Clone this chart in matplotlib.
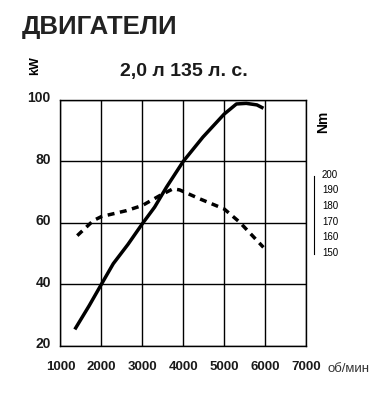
import matplotlib
matplotlib.use("Agg")
import matplotlib.pyplot as plt
import matplotlib.transforms as mtransforms

# power curve (kW)
power_rpm = [1350, 1700, 2000, 2290, 2650, 3000, 3300, 3590, 4000, 4480, 5000, 5300, 5540, 5800, 5960]
power_kw = [25.3, 33.0, 40.0, 46.7, 53.0, 59.7, 65.1, 71.6, 80.0, 87.9, 95.4, 98.7, 98.9, 98.4, 97.3]

# torque curve (Nm)
torque_rpm = [1410, 1800, 2000, 2610, 3000, 3430, 3750, 3910, 4400, 5000, 5380, 5960]
torque_nm = [159.7, 169.3, 171.9, 175.7, 179.0, 185.4, 189.7, 189.0, 183.3, 176.8, 168.3, 152.2]

rpm_ticks = [1000, 2000, 3000, 4000, 5000, 6000, 7000]
kw_ticks = [20, 40, 60, 80, 100]
nm_ticks = [150, 160, 170, 180, 190, 200]

plt.rcParams['font.family'] = ['Liberation Sans', 'DejaVu Sans']

fig = plt.figure(figsize=(3.89, 4.02), dpi=100)
ax = fig.add_axes([0.1555, 0.1376, 0.6311, 0.6112])

ax.set_xlim(1000, 7000)
ax.set_ylim(20, 100)
ax.set_xticks(rpm_ticks)
ax.set_yticks(kw_ticks)
ax.grid(True, color='black', linewidth=1.0)
for s in ax.spines.values():
    s.set_linewidth(1.0)
ax.tick_params(length=0)
ax.tick_params(axis='x', pad=10.5, labelsize=9.5)
ax.tick_params(axis='y', pad=7, labelsize=10)
for lab in ax.get_xticklabels() + ax.get_yticklabels():
    lab.set_fontweight('bold')
    lab.set_color('#1a1a1a')
up = mtransforms.ScaledTranslation(0, 4 / 100, fig.dpi_scale_trans)
for lab in ax.get_yticklabels():
    lab.set_transform(lab.get_transform() + up)

ax.plot(power_rpm, power_kw, color='black', linewidth=2.5, solid_capstyle='butt',
        solid_joinstyle='round', zorder=3)

# torque on its own scale
ax2 = ax.twinx()
ax2.set_ylim(89.2, 246.6)
ax2.plot(torque_rpm, torque_nm, color='black', linewidth=2.5, dashes=(2.0, 1.6), zorder=3)
ax2.set_yticks(nm_ticks)
ax2.tick_params(length=0, pad=5.5, labelsize=7)
for lab in ax2.get_yticklabels():
    lab.set_fontweight('bold')
    lab.set_color('#1a1a1a')
for k in ['top', 'left', 'bottom']:
    ax2.spines[k].set_visible(False)
ax2.spines['right'].set_position(('outward', 6))
ax2.spines['right'].set_bounds(148, 198)
ax2.spines['right'].set_linewidth(0.8)

# texts
fig.text(22 / 389, 1 - 34 / 402, 'ДВИГАТЕЛИ', fontsize=18.5, fontweight='bold',
         color='#222222', ha='left', va='baseline')
fig.text(184 / 389, 1 - 76 / 402, '2,0 л 135 л. с.', fontsize=14, fontweight='bold',
         color='#1a1a1a', ha='center', va='baseline')
fig.text(35 / 389, 1 - 66 / 402, 'kW', fontsize=9, fontweight='bold', rotation=90,
         ha='center', va='center')
fig.text(323 / 389, 1 - 122 / 402, 'Nm', fontsize=10, fontweight='bold', rotation=90,
         ha='center', va='center')
fig.text(327 / 389, 1 - 369 / 402, 'об/мин', fontsize=9.5, color='#333333',
         ha='left', va='center')

fig.savefig('out.png', dpi=100)
